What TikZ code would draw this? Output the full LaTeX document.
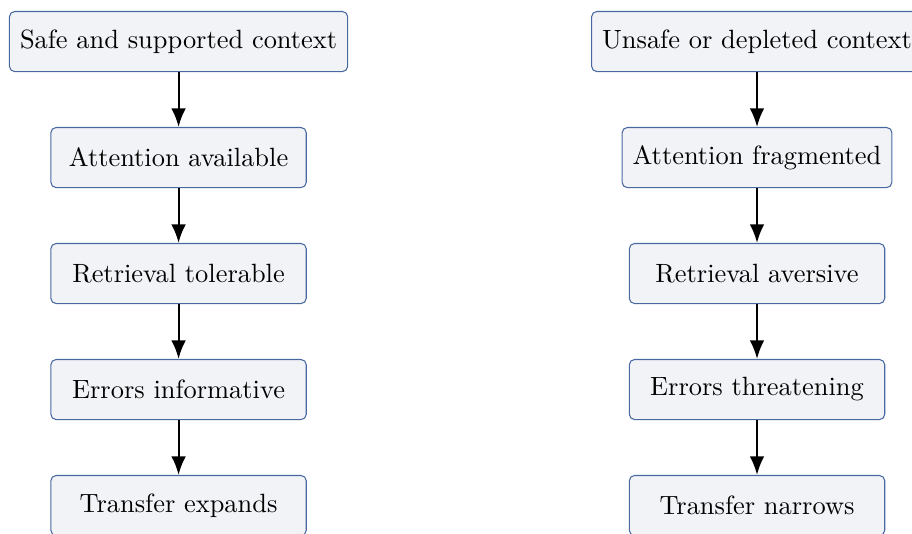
\documentclass[tikz,border=0pt]{standalone}
\usepackage{tikz}
\usetikzlibrary{arrows.meta, positioning}

\definecolor{stageedge}{RGB}{72,104,160}
\definecolor{stagefill}{RGB}{242,243,247}

\begin{document}
\begin{tikzpicture}[>={Latex[length=7pt, width=5.5pt]},
    stage/.style={draw=stageedge, fill=stagefill, rounded corners=2pt, minimum width=3.4cm, minimum height=0.8cm, inner sep=4pt, align=center},
    flow/.style={->, thick}]
    \useasboundingbox (-2.377,-6.547) rectangle (9.763,0.553);

    % supported path
    \node[stage] at (0,0) (safe) {Safe and supported context};
    \node[stage, below=0.73cm of safe] (attnok) {Attention available};
    \node[stage, below=0.73cm of attnok] (retrok) {Retrieval tolerable};
    \node[stage, below=0.73cm of retrok] (errok) {Errors informative};
    \node[stage, below=0.73cm of errok] (transok) {Transfer expands};

    % depleted path
    \node[stage] at (7.7,0) (unsafe) {Unsafe or depleted context};
    \node[stage, below=0.73cm of unsafe] (attnbad) {Attention fragmented};
    \node[stage, below=0.73cm of attnbad] (retrbad) {Retrieval aversive};
    \node[stage, below=0.73cm of retrbad] (errbad) {Errors threatening};
    \node[stage, below=0.73cm of errbad] (transbad) {Transfer narrows};

    \foreach \a/\b in {safe/attnok, attnok/retrok, retrok/errok, errok/transok,
                       unsafe/attnbad, attnbad/retrbad, retrbad/errbad, errbad/transbad} {
        \draw[flow] (\a) -- (\b);
    };
\end{tikzpicture}
\end{document}
